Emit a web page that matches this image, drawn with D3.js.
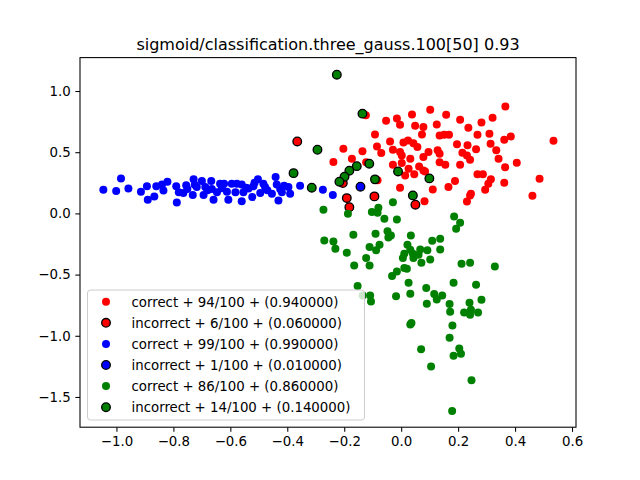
<!DOCTYPE html>
<html>
<head>
<meta charset="utf-8">
<script src="https://cdn.jsdelivr.net/npm/d3@7"></script>
<style>
  body { margin: 0; background: #fff; }
  text { font-family: "DejaVu Sans", sans-serif; }
</style>
</head>
<body>
<svg id="chart" width="640" height="480"></svg>
<script>
var title = "sigmoid/classification.three_gauss.100[50] 0.93";
var xTicks = [-1.0, -0.8, -0.6, -0.4, -0.2, 0.0, 0.2, 0.4, 0.6];
var yTicks = [-1.5, -1.0, -0.5, 0.0, 0.5, 1.0];
var legendLabels = [
  "correct + 94/100 + (0.940000)",
  "incorrect + 6/100 + (0.060000)",
  "correct + 99/100 + (0.990000)",
  "incorrect + 1/100 + (0.010000)",
  "correct + 86/100 + (0.860000)",
  "incorrect + 14/100 + (0.140000)"
];
var colours = ["#ff0000", "#ff0000", "#0000ff", "#0000ff", "#008000", "#008000"];

var redCorrect = [
  [0.102,0.847],[0.038,0.809],[-0.015,0.776],[-0.053,0.757],[-0.004,0.725],[0.049,0.717],
  [0.125,0.727],[0.078,0.705],[-0.092,0.645],[0.073,0.645],[0.135,0.637],[-0.039,0.588],
  [0.008,0.580],[0.024,0.596],[0.043,0.574],[-0.203,0.529],[-0.136,0.507],[-0.085,0.547],
  [-0.070,0.493],[-0.029,0.520],[-0.004,0.501],[0.057,0.542],[0.096,0.501],[-0.173,0.447],
  [-0.238,0.419],[0.002,0.474],[0.032,0.447],[0.078,0.460],[-0.123,0.417],[-0.029,0.398],
  [0.002,0.411],[0.026,0.365],[0.063,0.384],[0.084,0.343],[0.014,0.310],[0.046,0.319],
  [-0.083,0.270],[-0.004,0.210],[0.111,0.196],[0.082,0.100],[-0.124,0.801],[0.128,0.515],
  [0.366,0.874],[0.158,0.806],[0.207,0.766],[0.321,0.782],[0.282,0.743],[0.236,0.700],
  [0.151,0.643],[0.168,0.643],[0.268,0.643],[0.310,0.651],[0.385,0.629],[0.362,0.602],
  [0.535,0.594],[0.196,0.564],[0.233,0.556],[0.314,0.569],[0.263,0.525],[0.334,0.515],
  [0.135,0.488],[0.215,0.496],[0.231,0.474],[0.242,0.439],[0.342,0.447],[0.406,0.414],
  [0.135,0.417],[0.155,0.398],[0.207,0.398],[0.365,0.378],[0.268,0.319],[0.287,0.319],
  [0.315,0.280],[0.189,0.264],[0.486,0.284],[0.362,0.251],[0.306,0.243],[0.166,0.215],
  [0.295,0.194],[0.245,0.161],[0.461,0.145],[0.231,0.098],[0.242,0.147],[0.078,0.351]
];
var redWrong = [
  [-0.365,0.588],[-0.191,0.125],[-0.094,0.139],[0.050,0.071],[-0.182,0.051],[-0.205,0.248]
];
var blueCorrect = [
  [-1.046,0.194],[-1.001,0.182],[-0.984,0.286],[-0.958,0.204],[-0.914,0.177],[-0.893,0.221],
  [-0.890,0.112],[-0.867,0.139],[-0.860,0.221],[-0.840,0.237],[-0.821,0.259],[-0.835,0.188],
  [-0.790,0.221],[-0.788,0.090],[-0.781,0.172],[-0.765,0.166],[-0.751,0.199],[-0.729,0.280],
  [-0.732,0.150],[-0.718,0.215],[-0.700,0.264],[-0.694,0.150],[-0.688,0.215],[-0.667,0.264],
  [-0.665,0.199],[-0.659,0.112],[-0.647,0.172],[-0.636,0.243],[-0.622,0.243],[-0.612,0.177],
  [-0.607,0.112],[-0.595,0.243],[-0.582,0.172],[-0.577,0.243],[-0.560,0.237],[-0.560,0.100],
  [-0.554,0.172],[-0.536,0.204],[-0.523,0.133],[-0.519,0.221],[-0.503,0.280],[-0.495,0.166],
  [-0.484,0.243],[-0.478,0.215],[-0.454,0.161],[-0.441,0.297],[-0.437,0.237],[-0.431,0.106],
  [-0.419,0.172],[-0.411,0.226],[-0.396,0.215],[-0.390,0.161],[-0.355,0.226],[-0.275,0.194],
  [-0.240,0.150],[-0.725,0.235],[-0.630,0.205],[-0.545,0.210],[-0.470,0.190],[-0.680,0.190],
  [-0.755,0.230],[-0.515,0.250],[-0.425,0.200]
];
var blueWrong = [[-0.143,0.218]];
var greenCorrect = [
  [-0.273,0.030],[-0.187,-0.002],[-0.029,0.092],[-0.103,0.011],[-0.080,0.047],[-0.083,0.006],
  [-0.059,-0.043],[-0.015,-0.049],[0.186,-0.025],[0.207,-0.076],[0.193,-0.125],[-0.270,-0.221],
  [-0.238,-0.229],[-0.231,-0.288],[-0.168,-0.174],[-0.090,-0.166],[-0.048,-0.145],[-0.045,-0.196],
  [-0.036,-0.180],[0.034,-0.180],[0.109,-0.223],[0.137,-0.207],[-0.076,-0.256],[-0.111,-0.275],
  [-0.088,-0.302],[0.022,-0.256],[0.032,-0.297],[0.011,-0.329],[0.041,-0.329],[0.067,-0.294],
  [0.061,-0.337],[0.092,-0.302],[0.137,-0.294],[-0.191,-0.321],[-0.123,-0.365],[0.006,-0.365],
  [0.043,-0.365],[0.102,-0.376],[0.071,-0.403],[-0.111,-0.425],[-0.165,-0.425],[0.212,-0.411],
  [0.242,-0.403],[0.329,-0.433],[0.011,-0.447],[0.020,-0.452],[-0.015,-0.474],[-0.032,-0.512],
  [0.026,-0.566],[0.184,-0.566],[0.263,-0.583],[-0.153,-0.594],[0.088,-0.610],[0.032,-0.656],
  [-0.018,-0.676],[0.116,-0.659],[0.144,-0.670],[0.125,-0.703],[-0.109,-0.670],[-0.106,-0.719],
  [0.090,-0.738],[0.170,-0.741],[0.240,-0.730],[0.282,-0.705],[0.172,-0.803],[0.221,-0.809],
  [0.242,-0.828],[0.270,-0.809],[0.245,-0.787],[0.032,-0.907],[0.036,-0.896],[0.180,-0.915],
  [0.170,-1.016],[0.070,-1.111],[0.204,-1.103],[0.210,-1.146],[0.184,-1.163],[0.105,-1.250],
  [0.247,-1.364],[0.179,-1.614],[-0.135,-0.670]
];
var greenWrong = [
  [-0.226,1.133],[-0.136,0.815],[-0.294,0.520],[-0.314,0.210],[-0.378,0.329],[-0.112,0.406],
  [-0.156,0.386],[-0.182,0.349],[-0.199,0.300],[-0.217,0.259],[-0.092,0.278],[-0.011,0.343],
  [0.099,0.286],[0.041,0.147]
];

var series = [redCorrect, redWrong, blueCorrect, blueWrong, greenCorrect, greenWrong];

var svg = d3.select("#chart");
var plotL = 80, plotR = 576, plotT = 57.6, plotB = 427.2;

var x = d3.scaleLinear().domain([-1.128, 0.614]).range([plotL, plotR]);
var y = d3.scaleLinear().domain([-1.747, 1.273]).range([plotB, plotT]);

// title
svg.append("text")
  .attr("x", (plotL + plotR) / 2)
  .attr("y", 50)
  .attr("text-anchor", "middle")
  .style("font-size", "16px")
  .text(title);

// points, drawn in legend order like the original plot
series.forEach(function(pts, i) {
  var wrong = i % 2 == 1;
  svg.append("g").selectAll("circle")
    .data(pts)
    .enter().append("circle")
      .attr("cx", function(d) { return x(d[0]); })
      .attr("cy", function(d) { return y(d[1]); })
      .attr("r", wrong ? 4.3 : 4)
      .attr("fill", colours[i])
      .attr("stroke", wrong ? "#000" : "none")
      .attr("stroke-width", wrong ? 1.33 : 0);
});

// axes
var fmt = d3.format(".1f");
var xAxis = svg.append("g")
  .attr("transform", "translate(0," + plotB + ")")
  .call(d3.axisBottom(x).tickValues(xTicks).tickFormat(fmt).tickSize(4.67).tickPadding(4.67));
var yAxis = svg.append("g")
  .attr("transform", "translate(" + plotL + ",0)")
  .call(d3.axisLeft(y).tickValues(yTicks).tickFormat(fmt).tickSize(4.67).tickPadding(4.67));

[xAxis, yAxis].forEach(function(a) {
  a.select(".domain").remove();
  a.selectAll("line").attr("stroke", "#000").attr("stroke-width", 1.07);
  a.selectAll("text").style("font-size", "13.33px").style("font-family", "'DejaVu Sans', sans-serif").attr("fill", "#000");
});

// frame
svg.append("rect")
  .attr("x", plotL).attr("y", plotT)
  .attr("width", plotR - plotL).attr("height", plotB - plotT)
  .attr("fill", "none").attr("stroke", "#000").attr("stroke-width", 1.07);

// legend
var lg = svg.append("g");
lg.append("rect")
  .attr("x", 87.5).attr("y", 290)
  .attr("width", 277).attr("height", 130)
  .attr("rx", 3)
  .attr("fill", "#fff").attr("fill-opacity", 0.8)
  .attr("stroke", "#cccccc").attr("stroke-width", 1);

legendLabels.forEach(function(lab, i) {
  var cy = 301.7 + i * 21.1;
  var wrong = i % 2 == 1;
  lg.append("circle")
    .attr("cx", 106).attr("cy", cy)
    .attr("r", wrong ? 4.3 : 4)
    .attr("fill", colours[i])
    .attr("stroke", wrong ? "#000" : "none")
    .attr("stroke-width", wrong ? 1.33 : 0);
  lg.append("text")
    .attr("x", 131.5).attr("y", cy + 4.8)
    .style("font-size", "13.33px")
    .text(lab);
});
</script>
</body>
</html>
